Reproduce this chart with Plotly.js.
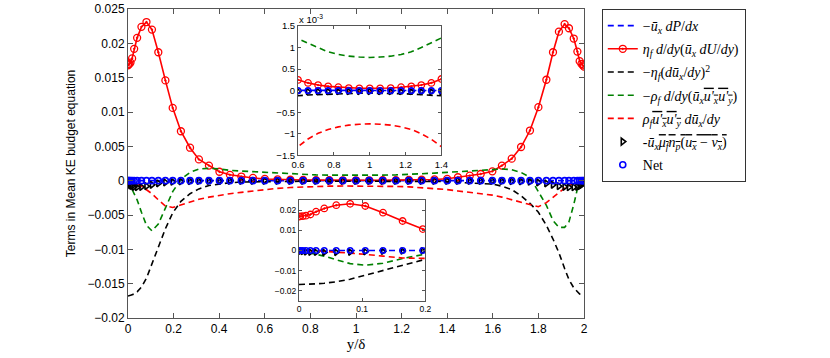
<!DOCTYPE html>
<html>
<head>
<meta charset="utf-8">
<script src="https://cdn.plot.ly/plotly-3.0.1.min.js"></script>
<style>
  body { margin: 0; background: #fff; }
  #plot { width: 830px; height: 358px; }
</style>
</head>
<body>
<div id="plot"></div>
<script>
// y/delta positions of the samples
var yPos = [0, 0.002, 0.006, 0.011, 0.018, 0.027, 0.04, 0.059, 0.081, 0.105, 0.133, 0.164, 0.196, 0.232,
  0.272, 0.311, 0.355, 0.401, 0.447, 0.497, 0.548, 0.6, 0.656, 0.712, 0.768, 0.825, 0.883, 0.942, 1.0,
  1.058, 1.117, 1.175, 1.232, 1.288, 1.344, 1.4, 1.447, 1.499, 1.547, 1.598, 1.64, 1.683, 1.724, 1.763,
  1.8, 1.835, 1.864, 1.89, 1.915, 1.934, 1.955, 1.971, 1.981, 1.989, 1.995, 2.0];

// -u dP/dx
var pressWork = [0, 0, 0, 0.00001, 0.00001, 0.00001, 0.00001, 0.00001, 0.00001, 0.00001, 0.00001, 0.00001, 0.00001, 0.00001,
  0.00001, 0.00001, 0.00001, 0.00001, 0.00001, 0.00001, 0.00001, 0.00001, 0.00001, 0.00001, 0.00001, 0.00001, 0.00001, 0.00001, 0.00001,
  0.00001, 0.00001, 0.00001, 0.00001, 0.00001, 0.00001, 0.00001, 0.00001, 0.00001, 0.00001, 0.00001, 0.00001, 0.00001, 0.00001, 0.00001,
  0.00001, 0.00001, 0.00001, 0.00001, 0.00001, 0.00001, 0.00001, 0.00001, 0.00001, 0, 0, 0];

// eta d/dy(u dU/dy)
var viscDiff = [0.0168, 0.0169, 0.0170, 0.0172, 0.0178, 0.0192, 0.0208, 0.0224, 0.0231, 0.0220, 0.0187, 0.0146, 0.0106, 0.0072,
  0.0048, 0.0031, 0.0022, 0.0013, 0.00085, 0.0006, 0.0004, 0.00025, 0.00018, 0.00013, 0.0001, 0.00008, 0.00006, 0.000055, 0.000055,
  0.000055, 0.00006, 0.00008, 0.0001, 0.00013, 0.00018, 0.00027, 0.0005, 0.00072, 0.00097, 0.00136, 0.0022, 0.0032, 0.0049, 0.0073,
  0.0107, 0.0147, 0.0187, 0.0217, 0.0228, 0.0222, 0.0207, 0.0188, 0.0174, 0.0170, 0.0168, 0.0166];

// -eta (du/dy)^2
var viscDiss = [-0.0168, -0.0168, -0.0168, -0.0167, -0.0166, -0.0165, -0.0162, -0.0155, -0.0142, -0.0122, -0.0097, -0.0070, -0.0047, -0.0030,
  -0.0019, -0.0012, -0.0007, -0.00045, -0.0003, -0.0002, -0.00016, -0.00012, -0.0001, -0.00009, -0.00008, -0.00007, -0.00007, -0.00006, -0.00006,
  -0.00006, -0.00007, -0.00007, -0.00008, -0.00009, -0.0001, -0.00012, -0.00025, -0.0003, -0.0004, -0.0005, -0.0008, -0.0013, -0.0022, -0.0033,
  -0.0046, -0.0065, -0.0085, -0.0105, -0.0128, -0.0144, -0.0156, -0.0162, -0.0165, -0.0166, -0.0167, -0.0167];

// -rho d/dy(u u'v')
var turbTrans = [0, -0.0001, -0.0004, -0.0008, -0.0013, -0.0019, -0.0028, -0.0046, -0.0065, -0.0073, -0.0063, -0.0040, -0.0016, 0.0002,
  0.0012, 0.0017, 0.0018, 0.0017, 0.0015, 0.0014, 0.0013, 0.00121, 0.0011, 0.001, 0.0009, 0.00084, 0.0008, 0.00078, 0.00077,
  0.00078, 0.0008, 0.00084, 0.0009, 0.001, 0.0011, 0.00121, 0.0013, 0.0014, 0.0015, 0.0016, 0.0017, 0.0016, 0.0012, 0.0005,
  -0.0015, -0.0036, -0.0058, -0.0068, -0.0068, -0.006, -0.0035, -0.0012, -0.0005, -0.0002, -0.0001, 0];

// rho u'v' du/dy
var turbProd = [0, 0, -0.00002, -0.00006, -0.00012, -0.0002, -0.0004, -0.0008, -0.0013, -0.0019, -0.0028, -0.0037, -0.0039, -0.0035,
  -0.0031, -0.0027, -0.0024, -0.0021, -0.0019, -0.0017, -0.0015, -0.0013, -0.00112, -0.00099, -0.0009, -0.00084, -0.0008, -0.00078, -0.00077,
  -0.00078, -0.0008, -0.00084, -0.0009, -0.001, -0.00113, -0.0013, -0.0015, -0.0017, -0.0019, -0.0021, -0.0024, -0.0028, -0.0032, -0.0035,
  -0.0038, -0.0032, -0.0024, -0.0018, -0.0011, -0.0007, -0.0004, -0.0002, -0.0001, -0.00005, -0.00002, 0];

// -u mu n_p (u - v)
var dragWork = [-0.0002, -0.0003, -0.0005, -0.0007, -0.0008, -0.0009, -0.00096, -0.00092, -0.0008, -0.0006, -0.0004, -0.00026, -0.00016, -0.0001,
  -0.00007, -0.00005, -0.00004, -0.00004, -0.00003, -0.00003, -0.00003, -0.00002, -0.00002, -0.00002, -0.00002, -0.00002, -0.00002, -0.00002, -0.00002,
  -0.00002, -0.00002, -0.00002, -0.00002, -0.00002, -0.00002, -0.00002, -0.00003, -0.00003, -0.00003, -0.00004, -0.00005, -0.00007, -0.0001, -0.00016,
  -0.00026, -0.0004, -0.0006, -0.0008, -0.0009, -0.00096, -0.00095, -0.0009, -0.0008, -0.0006, -0.0004, -0.0002];

// net
var netKE = [0, 0, 0, 0.00001, 0, 0, 0, 0, 0, 0, 0, 0, 0, 0,
  0, 0, 0, 0, 0, 0, 0, 0, 0, 0, 0, 0, 0, 0, 0,
  0, 0, 0, 0, 0, 0, 0, 0, 0, 0, 0, 0, 0, 0, 0,
  0, 0, 0, 0, 0, 0, 0, 0, 0.00001, 0, 0, 0];

var legendNames = [
  '−<i>ū<sub>x</sub></i> <i>dP</i>/<i>dx</i>',
  '<i>η<sub>f</sub></i> <i>d</i>/<i>dy</i>(<i>ū<sub>x</sub></i> <i>dU</i>/<i>dy</i>)',
  '−<i>η<sub>f</sub></i>(<i>dū<sub>x</sub></i>/<i>dy</i>)<sup>2</sup>',
  '−<i>ρ<sub>f</sub></i> <i>d</i>/<i>dy</i>(<i>ū<sub>x</sub></i><span style="text-decoration:overline"><i>u\'<sub>x</sub>u\'<sub>y</sub></i></span>)',
  '<i>ρ<sub>f</sub></i><span style="text-decoration:overline"><i>u\'<sub>x</sub>u\'<sub>y</sub></i></span> <i>dū<sub>x</sub></i>/<i>dy</i>',
  '-<i>ū<sub>x</sub></i><span style="text-decoration:overline"><i>μ<sub>f</sub>n<sub>p</sub></i>(<i>u<sub>x</sub></i> − <i>v<sub>x</sub></i>)</span>',
  'Net'
];

var mainYTicks = [-0.02, -0.015, -0.01, -0.005, 0, 0.005, 0.01, 0.015, 0.02, 0.025];
var mainYLabels = ['−0.02', '−0.015', '−0.01', '−0.005', '0', '0.005', '0.01', '0.015', '0.02', '0.025'];
var topYTicks = [-0.0015, -0.001, -0.0005, 0, 0.0005, 0.001, 0.0015];
var topYLabels = ['−1.5', '−1', '−0.5', '0', '0.5', '1', '1.5'];
var lowYTicks = [-0.02, -0.01, 0, 0.01, 0.02];
var lowYLabels = ['−0.02', '−0.01', '0', '0.01', '0.02'];

var dashPat = '6px,4px';

function makeTraces(xa, ya, mk, lw, legend) {
  var show = legend;
  return [
    { x: yPos, y: pressWork, mode: 'lines', name: legendNames[0], xaxis: xa, yaxis: ya, showlegend: show, legendgroup: 'a',
      line: { color: '#0000ff', width: lw, dash: dashPat } },
    { x: yPos, y: viscDiff, mode: 'lines+markers', name: legendNames[1], xaxis: xa, yaxis: ya, showlegend: show, legendgroup: 'b',
      line: { color: '#ff0000', width: lw },
      marker: { symbol: 'circle-open-dot', size: mk, color: '#ff0000', line: { width: 1.3, color: '#ff0000' } } },
    { x: yPos, y: viscDiss, mode: 'lines', name: legendNames[2], xaxis: xa, yaxis: ya, showlegend: show, legendgroup: 'c',
      line: { color: '#000000', width: lw, dash: dashPat } },
    { x: yPos, y: turbTrans, mode: 'lines', name: legendNames[3], xaxis: xa, yaxis: ya, showlegend: show, legendgroup: 'd',
      line: { color: '#008000', width: lw, dash: dashPat } },
    { x: yPos, y: turbProd, mode: 'lines', name: legendNames[4], xaxis: xa, yaxis: ya, showlegend: show, legendgroup: 'e',
      line: { color: '#ff0000', width: lw, dash: dashPat } },
    { x: yPos, y: dragWork, mode: 'markers', name: legendNames[5], xaxis: xa, yaxis: ya, showlegend: show, legendgroup: 'f',
      marker: { symbol: 'triangle-right-open', size: mk - 1, color: '#000000', line: { width: 1.6, color: '#000000' } } },
    { x: yPos, y: netKE, mode: 'markers', name: legendNames[6], xaxis: xa, yaxis: ya, showlegend: show, legendgroup: 'g',
      marker: { symbol: 'circle-open', size: mk - 1, color: '#0000ff', line: { width: 1.6, color: '#0000ff' } } }
  ];
}

var data = makeTraces('x', 'y', 7, 1.6, true)
  .concat(makeTraces('x2', 'y2', 6.5, 1.6, false))
  .concat(makeTraces('x3', 'y3', 6.5, 1.6, false));

var axLine = '#555555';
function boxAxis(extra) {
  var base = {
    showline: true, linecolor: axLine, linewidth: 1, mirror: 'ticks',
    ticks: 'inside', ticklen: 4, tickcolor: axLine, tickwidth: 1,
    showgrid: false, zeroline: false,
    tickfont: { family: 'Liberation Sans, Arial, sans-serif', size: 12, color: '#000' }
  };
  for (var k in extra) base[k] = extra[k];
  return base;
}

var layout = {
  width: 830, height: 358,
  margin: { l: 128, r: 246, t: 9, b: 40 },
  paper_bgcolor: '#fff', plot_bgcolor: 'rgba(0,0,0,0)',
  font: { family: 'Liberation Sans, Arial, sans-serif', color: '#000' },
  xaxis: boxAxis({
    range: [0, 2], dtick: 0.2, tick0: 0, ticklen: 5,
    title: { text: 'y/δ', font: { family: 'Liberation Serif, Times New Roman, serif', size: 15 }, standoff: 1 }
  }),
  yaxis: boxAxis({
    range: [-0.02, 0.025], tickvals: mainYTicks, ticktext: mainYLabels, ticklen: 5,
    title: { text: 'Terms in Mean KE budget equation', font: { size: 12 }, standoff: 9 }
  }),
  xaxis2: boxAxis({
    domain: [0.3728, 0.6873], anchor: 'y2', range: [0.6, 1.4], dtick: 0.2, tick0: 0.6, ticklen: 3,
    tickfont: { family: 'Liberation Sans, Arial, sans-serif', size: 9.5, color: '#000' }
  }),
  yaxis2: boxAxis({
    domain: [0.5265, 0.945], anchor: 'x2', range: [-0.0015, 0.0015], tickvals: topYTicks, ticktext: topYLabels, ticklen: 3,
    tickfont: { family: 'Liberation Sans, Arial, sans-serif', size: 9.5, color: '#000' }
  }),
  xaxis3: boxAxis({
    domain: [0.375, 0.652], anchor: 'y3', range: [0, 0.2], dtick: 0.1, tick0: 0, ticklen: 3,
    tickfont: { family: 'Liberation Sans, Arial, sans-serif', size: 8.5, color: '#000' }
  }),
  yaxis3: boxAxis({
    domain: [0.055, 0.382], anchor: 'x3', range: [-0.025, 0.025], tickvals: lowYTicks, ticktext: lowYLabels, ticklen: 3,
    tickfont: { family: 'Liberation Sans, Arial, sans-serif', size: 8.5, color: '#000' }
  }),
  shapes: [
    { type: 'rect', xref: 'x2 domain', yref: 'y2 domain', x0: 0, x1: 1, y0: 0, y1: 1, fillcolor: '#fff', line: { width: 0 }, layer: 'below' },
    { type: 'rect', xref: 'x3 domain', yref: 'y3 domain', x0: 0, x1: 1, y0: 0, y1: 1, fillcolor: '#fff', line: { width: 0 }, layer: 'below' }
  ],
  annotations: [
    { text: 'x 10<sup>-3</sup>', xref: 'x2 domain', yref: 'y2 domain', x: 0, y: 1, xanchor: 'left', yanchor: 'bottom',
      showarrow: false, font: { size: 9.5 }, xshift: -1, yshift: -1 }
  ],
  legend: {
    x: 1.039, y: 1.0, xanchor: 'left', yanchor: 'top',
    bgcolor: '#fff', bordercolor: '#333', borderwidth: 1,
    font: { family: 'Liberation Serif, Times New Roman, serif', size: 14, color: '#000' },
    tracegroupgap: 2, itemwidth: 30
  }
};

Plotly.newPlot('plot', data, layout, { staticPlot: true });
</script>
</body>
</html>
